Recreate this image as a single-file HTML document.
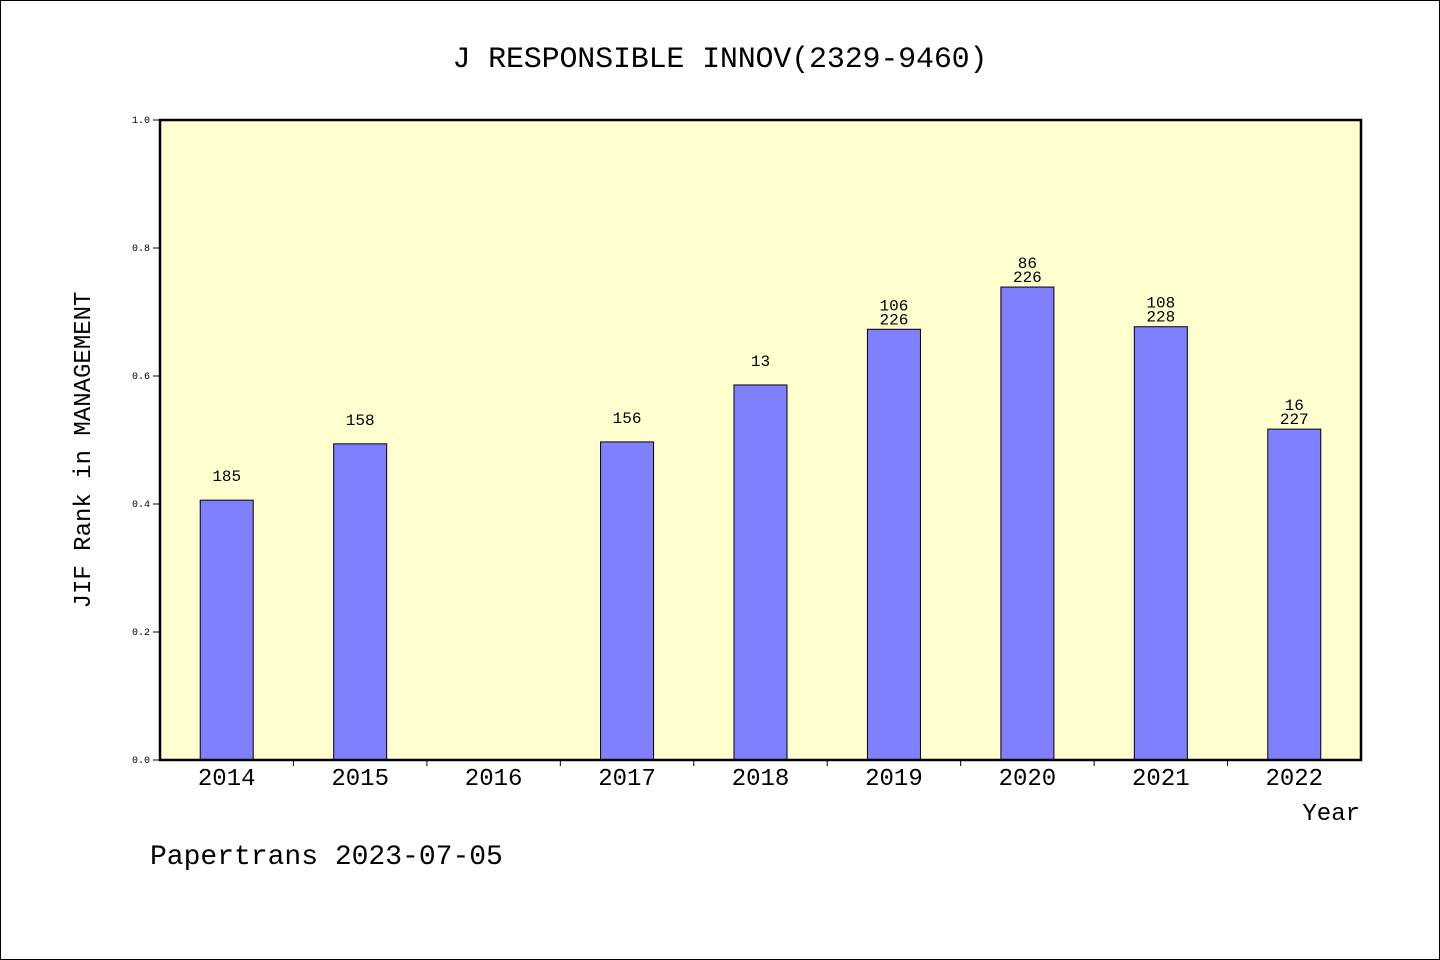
<!DOCTYPE html>
<html><head><meta charset="utf-8"><style>
body{margin:0;background:#fff}
svg{display:block}
text{font-family:"Liberation Mono","WenQuanYi Zen Hei",monospace;fill:#000}
</style></head><body>
<svg width="1440" height="960">
<rect x="0.5" y="0.5" width="1439" height="959" fill="#fff" stroke="#000"/>
<text x="720" y="67" font-size="30" text-anchor="middle" textLength="535">J RESPONSIBLE INNOV(2329-9460)</text>
<rect x="160" y="120" width="1201" height="640" fill="#ffffd0"/>
<g id="bars"></g>
<rect x="160" y="120" width="1201" height="640" fill="none" stroke="#000" stroke-width="2.5"/>
<text transform="translate(90,450) rotate(-90)" font-size="24" text-anchor="middle">JIF Rank in MANAGEMENT</text>
<text x="1360" y="820" font-size="24" text-anchor="end">Year</text>
<text x="150" y="864" font-size="28">Papertrans 2023-07-05</text>
</svg>
<script>
const years=["2014","2015","2016","2017","2018","2019","2020","2021","2022"];
const values=[0.406,0.494,null,0.497,0.586,0.673,0.739,0.677,0.517];
const rankTop=["185","158","","156","13","106","86","108","16"];
const rankBottom=["","","","","","226","226","228","227"];
const yTicks=["0.0","0.2","0.4","0.6","0.8","1.0"];
const X0=160,W=1201,Y0=760,H=640;
const svg=document.querySelector('svg');
const g=document.getElementById('bars');
const NS='http://www.w3.org/2000/svg';
const step=W/years.length;
const xc=i=>X0+step*(i+0.5);
const y=v=>Y0-v*H;
function mk(t,a,p){const e=document.createElementNS(NS,t);for(const k in a)e.setAttribute(k,a[k]);(p||svg).appendChild(e);return e;}
yTicks.forEach(t=>{const v=parseFloat(t);
 const l=mk('line',{x1:153,x2:160,y1:y(v),y2:y(v),stroke:'#000'});
 
 
 const tx=mk('text',{x:150,y:y(v)+3,'font-size':10,'text-anchor':'end'});tx.textContent=t;
 
 
});
years.forEach((yr,i)=>{
 if(i>0){const l=mk('line',{x1:X0+step*i,x2:X0+step*i,y1:Y0,y2:Y0+6,stroke:'#000'});
  
  }
 const tx=mk('text',{x:xc(i),y:785,'font-size':24,'text-anchor':'middle'});tx.textContent=yr;
 
 
 const v=values[i];if(v==null)return;
 const r=mk('rect',{x:xc(i)-26.5,y:y(v),width:53,height:v*H,fill:'#8080ff',stroke:'#000','stroke-width':1},g);
 
 
 if(rankBottom[i]){
  const a=mk('text',{x:xc(i),y:y(v)-19,'font-size':16,'text-anchor':'middle'});a.textContent=rankTop[i];
  
  
  const b=mk('text',{x:xc(i),y:y(v)-5,'font-size':16,'text-anchor':'middle'});b.textContent=rankBottom[i];
  
  
 } else {
  const a=mk('text',{x:xc(i),y:y(v)-19,'font-size':16,'text-anchor':'middle'});a.textContent=rankTop[i];
  
  
 }
});
</script>
</body></html>
